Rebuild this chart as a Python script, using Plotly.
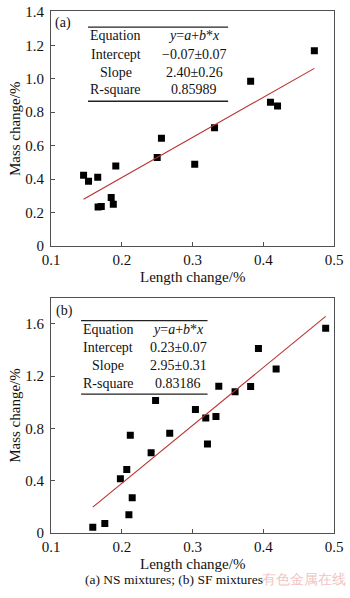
import numpy as np
import plotly.graph_objects as go

W, H = 350, 598

# ---- data: (a) NS mixtures ----
ns_length = [0.146, 0.153, 0.166, 0.1915, 0.185, 0.188, 0.1665, 0.171,
             0.250, 0.256, 0.303, 0.331, 0.382, 0.410, 0.420, 0.472]
ns_mass = [0.423, 0.388, 0.411, 0.478, 0.291, 0.250, 0.233, 0.236,
           0.530, 0.644, 0.489, 0.708, 0.985, 0.860, 0.837, 1.167]

# ---- data: (b) SF mixtures ----
sf_length = [0.488, 0.393, 0.418, 0.382, 0.360, 0.337, 0.2477, 0.304, 0.3186, 0.333,
             0.212, 0.2677, 0.321, 0.2414, 0.207, 0.198, 0.2147, 0.210, 0.176, 0.159]
sf_mass = [1.566, 1.412, 1.255, 1.121, 1.080, 1.123, 1.013, 0.944, 0.879, 0.891,
           0.747, 0.762, 0.680, 0.612, 0.485, 0.413, 0.268, 0.138, 0.071, 0.041]

# fit summary tables
table_a = [["Equation", "<i>y</i>=<i>a</i>+<i>b</i>*<i>x</i>"],
           ["Intercept", "\u22120.07\u00b10.07"],
           ["Slope", "2.40\u00b10.26"],
           ["R-square", "0.85989"]]
table_b = [["Equation", "<i>y</i>=<i>a</i>+<i>b</i>*<i>x</i>"],
           ["Intercept", "0.23\u00b10.07"],
           ["Slope", "2.95\u00b10.31"],
           ["R-square", "0.83186"]]

x_ticks = [0.1, 0.2, 0.3, 0.4, 0.5]
x_ticktext = ["0.1", "0.2", "0.3", "0.4", "0.5"]
ya_ticks = [0, 0.2, 0.4, 0.6, 0.8, 1.0, 1.2, 1.4]
ya_ticktext = ["0", "0.2", "0.4", "0.6", "0.8", "1.0", "1.2", "1.4"]
yb_ticks = [0, 0.4, 0.8, 1.2, 1.6]
yb_ticktext = ["0", "0.4", "0.8", "1.2", "1.6"]

FONT = "Times New Roman"
FRAME = "#505050"
LINE_RED = "#b8302c"


def px(x):
    return x / W


def py(y):
    return 1 - y / H


fig = go.Figure()


def add_panel(xs, ys, xa, ya):
    fig.add_trace(go.Scatter(
        x=xs, y=ys, mode="markers", xaxis=xa, yaxis=ya,
        marker=dict(symbol="square", size=7, color="black"),
        showlegend=False, hoverinfo="skip"))
    slope, intercept = np.polyfit(xs, ys, 1)
    xl = np.array([min(xs), max(xs)])
    fig.add_trace(go.Scatter(
        x=xl, y=intercept + slope * xl, mode="lines", xaxis=xa, yaxis=ya,
        line=dict(color=LINE_RED, width=1.1),
        showlegend=False, hoverinfo="skip"))


add_panel(ns_length, ns_mass, "x", "y")
add_panel(sf_length, sf_mass, "x2", "y2")

axis_common = dict(
    showline=True, linecolor=FRAME, linewidth=1.2, mirror=True,
    ticks="inside", ticklen=4, tickcolor=FRAME, tickwidth=1,
    showgrid=False, zeroline=False, ticklabeloverflow="allow",
    tickfont=dict(family=FONT, size=15, color="#111"),
)
y_extra = dict(ticklabelstandoff=3)

x_dom = [px(44.3), px(342.8)]
fig.update_layout(
    width=W, height=H,
    margin=dict(l=0, r=0, t=0, b=0),
    paper_bgcolor="white", plot_bgcolor="white",
    font=dict(family=FONT),
    xaxis=dict(domain=x_dom, range=[0.1, 0.5], anchor="y",
               tickvals=x_ticks, ticktext=x_ticktext, **axis_common),
    yaxis=dict(domain=[py(245.2), py(4)], range=[0, 1.406], anchor="x",
               tickvals=ya_ticks, ticktext=ya_ticktext, **axis_common, **y_extra),
    xaxis2=dict(domain=x_dom, range=[0.1, 0.5], anchor="y2",
                tickvals=x_ticks, ticktext=x_ticktext, **axis_common),
    yaxis2=dict(domain=[py(539.2), py(298.3)], range=[0, 1.80], anchor="x2",
                tickvals=yb_ticks, ticktext=yb_ticktext, **axis_common, **y_extra),
)

annotations = []
shapes = []


def text(x, y, s, size=14, anchor="center", angle=0, color="#111"):
    annotations.append(dict(
        x=px(x), y=py(y), xref="paper", yref="paper", text=s, showarrow=False,
        xanchor=anchor, yanchor="middle", textangle=angle,
        font=dict(family=FONT, size=size, color=color)))


def hline(x0, x1, y):
    shapes.append(dict(type="line", xref="paper", yref="paper",
                       x0=px(x0), x1=px(x1), y0=py(y), y1=py(y),
                       line=dict(color="#222", width=1.3)))


def draw_table(rows, x0, x1, c1, c2, top, bottom, row_y):
    hline(x0, x1, top)
    hline(x0, x1, bottom)
    for (k, v), yy in zip(rows, row_y):
        text(c1, yy, k)
        text(c2, yy, v)


# panel (a)
text(57, 16, "(a)", size=14)
draw_table(table_a, 83.3, 231, 112.7, 195.5, 20.7, 96.7, [29.5, 48.3, 66.7, 85])
text(7, 124.6, "Mass change/%", size=15, angle=-90)
text(193.5, 276.5, "Length change/%", size=15)

# panel (b)
text(58, 311.5, "(b)", size=14)
draw_table(table_b, 76, 209.3, 104.7, 178.3, 321.7, 397, [330.9, 349.3, 367.7, 386])
text(7, 418.7, "Mass change/%", size=15, angle=-90)
text(193.5, 571, "Length change/%", size=15)

# caption and source mark
text(174, 587, "(a) NS mixtures; (b) SF mixtures", size=13.5)
text(311, 587, "有色金属在线", size=13.5, color="#f2c4c4")

fig.update_layout(annotations=annotations, shapes=shapes)
fig.write_html("out.html")
